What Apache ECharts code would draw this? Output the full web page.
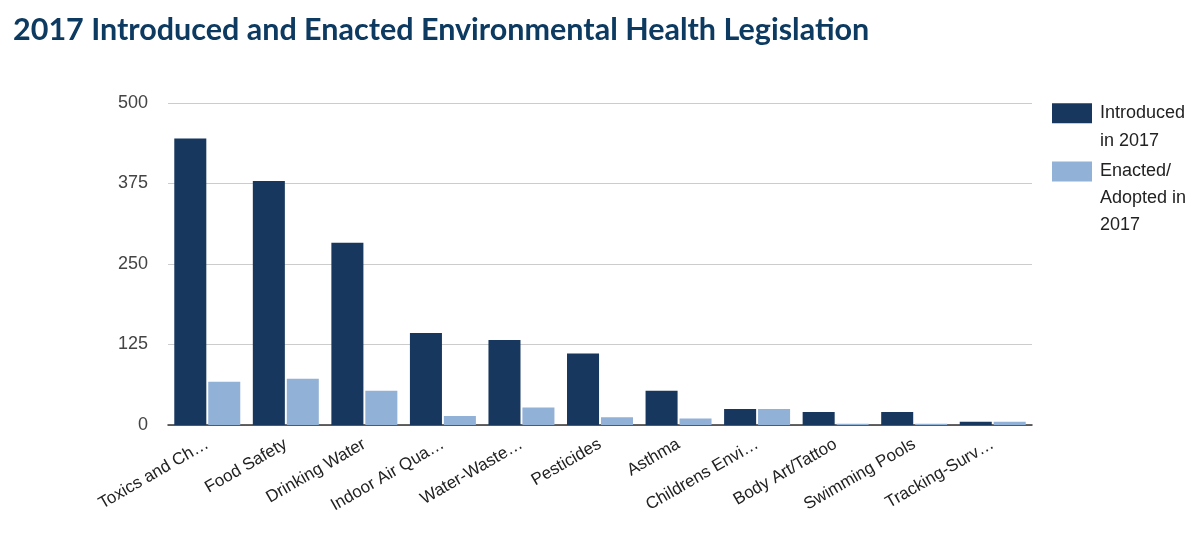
<!DOCTYPE html>
<html>
<head>
<meta charset="utf-8">
<script src="https://cdn.jsdelivr.net/npm/echarts@6/dist/echarts.min.js"></script>
<style>
html,body{margin:0;padding:0;background:#fff;}
#chart{width:1200px;height:538px;}
</style>
</head>
<body>
<div id="chart"></div>
<script>
const titleText = '2017 Introduced and Enacted Environmental Health Legislation';
const categories = ['Toxics and Ch…', 'Food Safety', 'Drinking Water', 'Indoor Air Qua…', 'Water-Waste…', 'Pesticides', 'Asthma', 'Childrens Envi…', 'Body Art/Tattoo', 'Swimming Pools', 'Tracking-Surv…'];
const introduced = [445, 379, 283, 143, 132, 111, 53, 25, 20, 20, 5];
const enacted = [67, 72, 53, 14, 27, 12, 10, 25, 2, 2, 5];
const seriesNames = ['Introduced in 2017', 'Enacted/Adopted in 2017'];
const legendLabels = [['Introduced', 'in 2017'], ['Enacted/', 'Adopted in', '2017']];
const yTicks = { min: 0, max: 500, interval: 125 };

// prepend blank lines so that the first text line sits level with the swatch
function legendText(lines) {
  return new Array(lines.length - 1).fill('').concat(lines).join('\n');
}

const chart = echarts.init(document.getElementById('chart'));
const labelFont = '"Liberation Sans", Arial, sans-serif';
chart.setOption({
  animation: false,
  backgroundColor: '#fff',
  title: {
    text: titleText,
    left: 8, top: 10,
    textStyle: { fontFamily: 'Lato, "Open Sans", sans-serif', fontWeight: 'bold', fontSize: 30.5, color: '#0d3a60' }
  },
  legend: [
    {
      data: [seriesNames[0]], orient: 'vertical', left: 1052, top: 72, padding: 0,
      itemWidth: 40, itemHeight: 20, icon: 'rect',
      formatter: () => legendText(legendLabels[0]),
      textStyle: { fontFamily: labelFont, fontSize: 18, color: '#222', lineHeight: 27.5, padding: [0, 0, 0, 3] }
    },
    {
      data: [seriesNames[1]], orient: 'vertical', left: 1052, top: 104, padding: 0,
      itemWidth: 40, itemHeight: 20, icon: 'rect',
      formatter: () => legendText(legendLabels[1]),
      textStyle: { fontFamily: labelFont, fontSize: 18, color: '#222', lineHeight: 27, padding: [0, 0, 0, 3] }
    }
  ],
  grid: { left: 168, right: 168, top: 103, bottom: 113 },
  xAxis: {
    type: 'category',
    data: categories,
    axisTick: { show: false },
    axisLine: { lineStyle: { color: '#333', width: 1.5 } },
    axisLabel: { interval: 0, rotate: 30, margin: 18, fontFamily: labelFont, fontSize: 17, color: '#222' }
  },
  yAxis: {
    type: 'value',
    min: yTicks.min, max: yTicks.max, interval: yTicks.interval,
    axisLine: { show: false },
    axisTick: { show: false },
    splitLine: { lineStyle: { color: '#cccccc', width: 1 } },
    axisLabel: { margin: 20, fontFamily: labelFont, fontSize: 18, color: '#444' }
  },
  series: [
    { name: seriesNames[0], type: 'bar', data: introduced, itemStyle: { color: '#17375e' }, barGap: '6%', barCategoryGap: '16%' },
    { name: seriesNames[1], type: 'bar', data: enacted, itemStyle: { color: '#92b1d6' } }
  ]
});
</script>
</body>
</html>
